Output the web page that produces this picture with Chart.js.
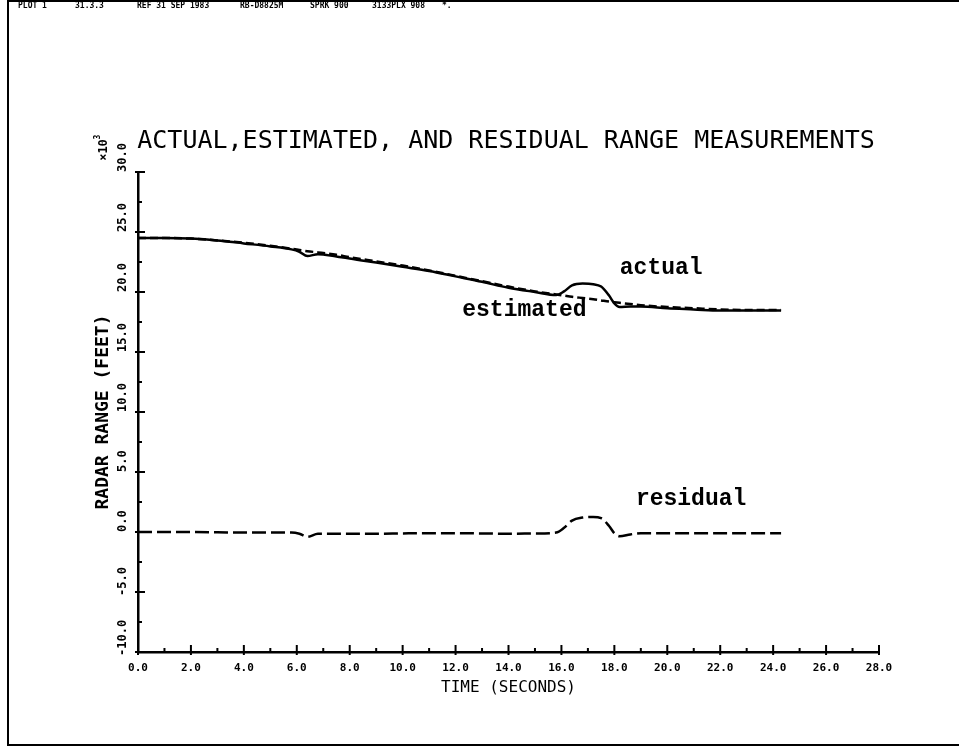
<!DOCTYPE html>
<html>
<head>
<meta charset="utf-8">
<script src="https://cdn.jsdelivr.net/npm/chart.js@4.4.1/dist/chart.umd.min.js"></script>
<style>
  body { margin: 0; background: #fff; }
  #wrap { width: 959px; height: 747px; position: relative; }
</style>
</head>
<body>
<div id="wrap"><canvas id="rangeChart"></canvas></div>
<script>
// time in seconds, range in thousands of feet
var timeSec = [0, 1, 2, 3, 4, 5, 5.8, 6.1, 6.4, 6.8, 7.5, 8, 9, 10, 11, 12, 13, 14, 15, 15.8,
               16.1, 16.4, 16.8, 17.2, 17.5, 17.8, 18.0, 18.2, 18.6, 19, 20, 21, 22, 23, 24.3];
var actualRange = [24.5, 24.5, 24.45, 24.3, 24.05, 23.8, 23.55, 23.35, 23.0, 23.15, 22.95, 22.8, 22.45, 22.1, 21.75, 21.3, 20.85, 20.35, 20.0, 19.75,
                   20.05, 20.55, 20.7, 20.65, 20.45, 19.7, 19.05, 18.75, 18.8, 18.8, 18.65, 18.55, 18.45, 18.45, 18.45];
var estimatedRange = [24.5, 24.5, 24.45, 24.3, 24.1, 23.85, 23.6, 23.5, 23.4, 23.3, 23.1, 22.9, 22.55, 22.2, 21.8, 21.35, 20.9, 20.45, 20.05, 19.8,
                      19.7, 19.6, 19.5, 19.4, 19.3, 19.2, 19.15, 19.1, 19.0, 18.9, 18.75, 18.65, 18.55, 18.5, 18.5];
var residualRange = [0, 0, 0, -0.02, -0.05, -0.05, -0.05, -0.15, -0.4, -0.15, -0.15, -0.15, -0.15, -0.12, -0.1, -0.1, -0.12, -0.15, -0.12, -0.05,
                     0.35, 0.95, 1.2, 1.25, 1.15, 0.5, -0.1, -0.35, -0.2, -0.1, -0.1, -0.1, -0.1, -0.1, -0.1];

var xTicks = [0, 2, 4, 6, 8, 10, 12, 14, 16, 18, 20, 22, 24, 26, 28];
var yTicks = [-10, -5, 0, 5, 10, 15, 20, 25, 30];

// curve labels: [text, time, range]
var curveLabels = [
  ['actual', 19.77, 22.0],
  ['estimated', 14.6, 18.5],
  ['residual', 20.9, 2.75]
];

var headerBits = [
  ['PLOT 1', 18], ['31.3.3', 75], ['REF 31 SEP 1983', 137],
  ['RB-D8825M', 240], ['SPRK 900', 310], ['3133PLX 908', 372], ['*.', 442]
];

function pts(ys) {
  return timeSec.map(function (t, i) { return { x: t, y: ys[i] }; });
}

var plotterDecor = {
  id: 'plotterDecor',
  afterDraw: function (chart) {
    var ctx = chart.ctx;
    var xs = chart.scales.x, ys = chart.scales.y;
    var area = chart.chartArea;
    ctx.save();
    ctx.strokeStyle = '#000';
    ctx.fillStyle = '#000';

    // page frame
    ctx.lineWidth = 2;
    ctx.beginPath();
    ctx.moveTo(959, 1); ctx.lineTo(8, 1); ctx.lineTo(8, 745); ctx.lineTo(959, 745);
    ctx.stroke();

    // header line
    ctx.font = 'bold 8px "DejaVu Sans Mono"';
    ctx.textBaseline = 'middle';
    ctx.textAlign = 'left';
    headerBits.forEach(function (h) { ctx.fillText(h[0], h[1], 6); });

    // inward ticks on y axis
    ctx.lineWidth = 2;
    for (var v = -10; v <= 30; v += 2.5) {
      var py = ys.getPixelForValue(v);
      var major = (v % 5 === 0);
      ctx.beginPath();
      ctx.moveTo(area.left - (major ? 3 : 0), py);
      ctx.lineTo(area.left + (major ? 7 : 4), py);
      ctx.stroke();
    }
    // inward ticks on x axis
    for (var t = 0; t <= 28; t += 1) {
      var px = xs.getPixelForValue(t);
      var maj = (t % 2 === 0);
      ctx.beginPath();
      ctx.moveTo(px, area.bottom + (maj ? 3 : 0));
      ctx.lineTo(px, area.bottom - (maj ? 7 : 4));
      ctx.stroke();
    }

    // rotated y tick labels, starting at the tick and running upward
    ctx.font = 'bold 12px "DejaVu Sans Mono"';
    ctx.textAlign = 'left';
    ctx.textBaseline = 'middle';
    yTicks.forEach(function (v) {
      ctx.save();
      ctx.translate(area.left - 15, ys.getPixelForValue(v));
      ctx.rotate(-Math.PI / 2);
      ctx.fillText(v.toFixed(1), v < 0 ? -4 : 0, 0);
      ctx.restore();
    });

    // x10^3 multiplier
    ctx.save();
    ctx.translate(area.left - 34, area.top - 22);
    ctx.rotate(-Math.PI / 2);
    ctx.font = 'bold 12px "DejaVu Sans Mono"';
    ctx.textAlign = 'center';
    ctx.fillText('\u00d710', 0, 0);
    ctx.font = 'bold 8px "DejaVu Sans Mono"';
    ctx.fillText('3', 13, -6);
    ctx.restore();

    // curve labels
    ctx.font = 'bold 23px "Liberation Mono"';
    ctx.textAlign = 'center';
    ctx.textBaseline = 'middle';
    curveLabels.forEach(function (c) {
      ctx.fillText(c[0], xs.getPixelForValue(c[1]), ys.getPixelForValue(c[2]));
    });
    ctx.restore();
  }
};

new Chart(document.getElementById('rangeChart'), {
  type: 'line',
  data: {
    datasets: [
      {
        label: 'actual',
        data: pts(actualRange),
        borderColor: '#000',
        borderWidth: 2.5,
        pointRadius: 0,
        cubicInterpolationMode: 'monotone'
      },
      {
        label: 'estimated',
        data: pts(estimatedRange),
        borderColor: '#000',
        borderWidth: 2.5,
        borderDash: [8, 4],
        pointRadius: 0,
        cubicInterpolationMode: 'monotone'
      },
      {
        label: 'residual',
        data: pts(residualRange),
        borderColor: '#000',
        borderWidth: 2.5,
        borderDash: [14, 5],
        pointRadius: 0,
        cubicInterpolationMode: 'monotone'
      }
    ]
  },
  options: {
    responsive: true,
    maintainAspectRatio: false,
    animation: false,
    layout: { padding: { left: 133, right: 80, top: 0, bottom: 35 } },
    plugins: {
      legend: { display: false },
      tooltip: { enabled: false },
      title: {
        display: true,
        text: 'ACTUAL,ESTIMATED, AND RESIDUAL RANGE MEASUREMENTS',
        color: '#000',
        font: { family: 'DejaVu Sans Mono', size: 25, weight: 'normal' },
        padding: { top: 126, bottom: 16 }
      }
    },
    scales: {
      x: {
        type: 'linear',
        min: 0,
        max: 28,
        grid: { display: false },
        border: { display: true, color: '#000', width: 2.5 },
        ticks: {
          stepSize: 2,
          padding: 2,
          color: '#000',
          maxRotation: 0,
          autoSkip: false,
          font: { family: 'DejaVu Sans Mono', size: 11, weight: 'bold' },
          callback: function (v) { return v.toFixed(1); }
        },
        title: {
          display: true,
          text: 'TIME (SECONDS)',
          color: '#000',
          font: { family: 'DejaVu Sans Mono', size: 16 },
          padding: { top: 0, bottom: 15 }
        },
        afterFit: function (scale) { scale.height = 60; }
      },
      y: {
        type: 'linear',
        min: -10,
        max: 30,
        grid: { display: false },
        border: { display: true, color: '#000', width: 2.5 },
        ticks: { display: false, stepSize: 5 },
        title: {
          display: true,
          text: 'RADAR RANGE (FEET)',
          color: '#000',
          font: { family: 'DejaVu Sans Mono', size: 18, weight: 'bold' },
          padding: { top: -40, bottom: 0 }
        },
        afterFit: function (scale) { scale.width = 5; }
      }
    }
  },
  plugins: [plotterDecor]
});
</script>
</body>
</html>
